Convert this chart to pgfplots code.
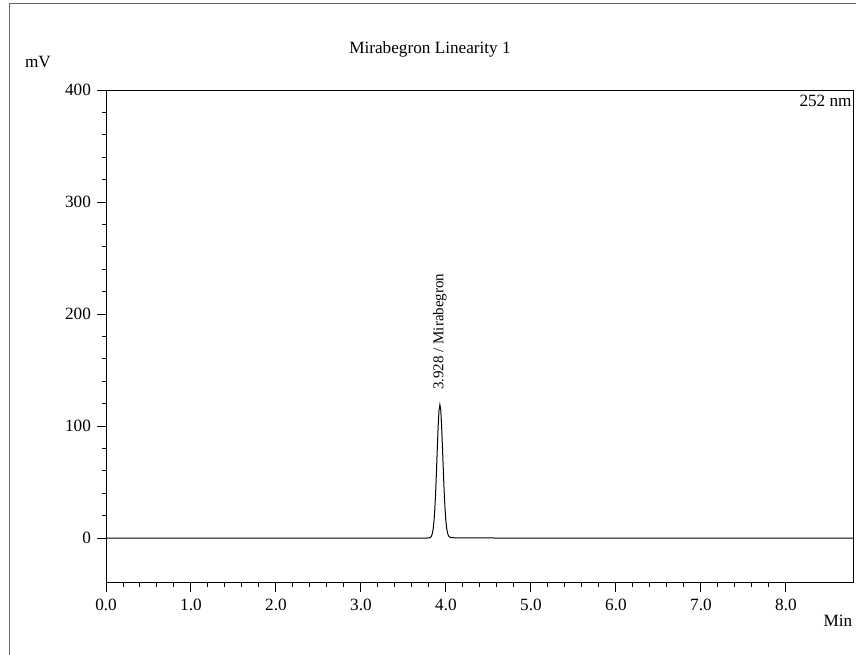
\documentclass[border=0pt]{standalone}
\usepackage{pgfplots}
\pgfplotsset{compat=1.18}
\usepackage{fontspec}
\setmainfont{Liberation Serif}
\begin{document}
\fontsize{8.6}{10}\selectfont
\begin{tikzpicture}
\useasboundingbox (0,0) rectangle (428pt,-327pt);
\draw[line width=0.6pt, gray!80!black] (4.75pt,-330pt) -- (4.75pt,-1.6pt) -- (430pt,-1.6pt);
\begin{axis}[
  at={(53pt,-291.4pt)}, anchor=south west,
  scale only axis, width=374pt, height=246.4pt,
  xmin=0, xmax=8.8, ymin=-40, ymax=400,
  xtick={0,1,...,8}, ytick={0,100,200,300,400},
  minor x tick num=4, minor y tick num=4,
  tick align=outside,
  major tick length=4.5pt, minor tick length=2pt,
  tick style={black, line width=0.5pt},
  axis line style={black, line width=0.5pt},
  xticklabel style={/pgf/number format/fixed, /pgf/number format/fixed zerofill, /pgf/number format/precision=1, yshift=-0.5pt},
  /pgf/number format/assume math mode=true,
  xtick pos=bottom, ytick pos=left,
  clip=false,
]
\addplot[black, line width=0.5pt] coordinates {
(0,0) (1.0,0) (2.0,0) (3.0,0) (3.70,0) (3.778,0) (3.808,0.2) (3.818,0.6) (3.828,1.6) (3.838,3.6) (3.848,7.5) (3.858,14.3) (3.868,25.1) (3.878,40.4) (3.888,59.6) (3.898,80.6) (3.908,100.1) (3.918,114.0) (3.928,119.0) (3.938,114.5) (3.948,101.0) (3.958,82.0) (3.968,61.5) (3.978,42.5) (3.988,27.0) (3.998,16.0) (4.008,8.8) (4.018,4.5) (4.028,2.2) (4.038,1.1) (4.058,0.4) (4.10,0.2) (4.3,0.1) (4.6,0) (5.0,0) (6.0,0) (7.0,0) (8.0,0) (8.8,0)
};
\node[rotate=90, anchor=west, inner sep=0pt, font=\fontsize{7.5}{9}\selectfont] at (axis cs:3.928,132) {3.928 / Mirabegron};
\node[anchor=north east, inner sep=1pt, yshift=-1.5pt] at (rel axis cs:1,1) {252 nm};
\end{axis}
\node at (215pt,-24.5pt) {Mirabegron Linearity 1};
\node at (19pt,-31pt) {mV};
\node at (419pt,-310.5pt) {Min};
\end{tikzpicture}
\end{document}
